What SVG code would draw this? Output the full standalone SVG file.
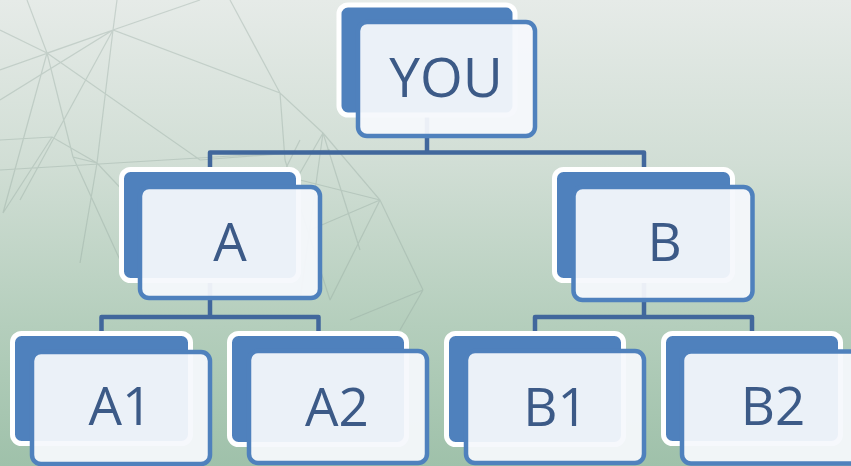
<svg xmlns="http://www.w3.org/2000/svg" width="851" height="466" viewBox="0 0 851 466">
<defs>
<linearGradient id="bg" x1="0" y1="0" x2="0" y2="1">
<stop offset="0" stop-color="#E6EBE8"/>
<stop offset="0.35" stop-color="#D1DED5"/>
<stop offset="0.7" stop-color="#B4CEBC"/>
<stop offset="1" stop-color="#9FC1AA"/>
</linearGradient>
<style>
.back{fill:#4F81BD;stroke:#FFFFFF;stroke-width:5}
.front{fill:#F5F8FC;fill-opacity:0.94;stroke:#4F81BD;stroke-width:4.5}
.lbl{font-family:"Open Sans","Noto Sans",sans-serif;font-size:53px;fill:#3C5A87;text-anchor:middle}
.conn{fill:none;stroke:#41679C;stroke-width:4.5;stroke-linejoin:round}
.net{fill:none;stroke:#8FA49A;stroke-width:1.2;stroke-opacity:0.35}
</style>
</defs>
<rect x="0" y="0" width="851" height="466" fill="url(#bg)"/>
<g id="network" class="net">
<path d="M0,100 L113,30 L280,93 L323,133 M0,70 L113,30 L117,0 M27,0 L47,53 L113,30 M47,53 L3,213 M113,30 L20,200 M47,53 L200,160 L330,150 M0,170 L330,150 M47,53 L73,157 L97,163 L80,263 M0,140 L52,137 L97,163 L160,230 M280,93 L285,160 M52,137 L3,213 M73,157 L120,260 M113,30 L97,163 M0,30 L47,53 M200,0 L113,30 M280,93 L230,0"/>
<path d="M323,133 L300,300 M323,133 L250,260 M323,133 L380,200 L423,290 M380,200 L300,180 M380,200 L310,230 M380,200 L330,300 M423,290 L350,320 M423,290 L400,330 M323,133 L360,250 M285,160 L330,300 M300,140 L260,220"/>
</g>
<g id="connectors" class="conn">
<path d="M427,60 V152.5"/>
<path d="M210,169 V152.5 H644 V169"/>
<path d="M210,281 V317"/>
<path d="M101.5,333 V317 H318.5 V333"/>
<path d="M644,281 V317"/>
<path d="M535,333 V317 H752 V333"/>
</g>
<g id="node-you">
<rect class="back" x="339" y="5" width="176" height="110" rx="9"/>
<rect class="front" x="358" y="22" width="177" height="114" rx="9"/>
<text class="lbl" x="446" y="97" style="font-size:55px">YOU</text>
</g>
<g id="node-a">
<rect class="back" x="121.5" y="169.5" width="177" height="111" rx="9"/>
<rect class="front" x="140" y="187" width="180" height="111" rx="9"/>
<text class="lbl" x="230" y="261">A</text>
</g>
<g id="node-b">
<rect class="back" x="554.5" y="169.5" width="178" height="111" rx="9"/>
<rect class="front" x="573.5" y="187" width="179" height="113" rx="9"/>
<text class="lbl" x="664.5" y="261">B</text>
</g>
<g id="node-a1">
<rect class="back" x="12.5" y="333.5" width="178" height="110" rx="9"/>
<rect class="front" x="32" y="352" width="178" height="112" rx="9"/>
<text class="lbl" x="120.5" y="425">A1</text>
</g>
<g id="node-a2">
<rect class="back" x="229.5" y="333.5" width="177" height="111" rx="9"/>
<rect class="front" x="249" y="351" width="178" height="112" rx="9"/>
<text class="lbl" x="337" y="426">A2</text>
</g>
<g id="node-b1">
<rect class="back" x="446.5" y="333.5" width="177" height="111" rx="9"/>
<rect class="front" x="466" y="351" width="178" height="112" rx="9"/>
<text class="lbl" x="555.5" y="426">B1</text>
</g>
<g id="node-b2">
<rect class="back" x="663.5" y="333.5" width="177" height="110" rx="9"/>
<rect class="front" x="682" y="351.5" width="178" height="112" rx="9"/>
<text class="lbl" x="773" y="425">B2</text>
</g>
</svg>
